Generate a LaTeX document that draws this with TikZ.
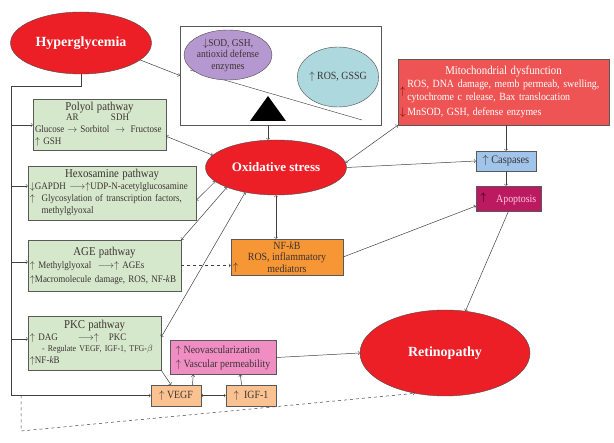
\documentclass[tikz,border=0pt]{standalone}
\usepackage{amsmath}
\usepackage{fontspec}
\setmainfont{Liberation Serif}
\newfontfamily\boxfont[FakeStretch=0.9]{Liberation Serif}
\usetikzlibrary{shapes.geometric}

\definecolor{hotred}{RGB}{236,30,38}
\definecolor{lilac}{RGB}{182,152,208}
\definecolor{paleblue}{RGB}{172,216,222}
\definecolor{mitored}{RGB}{238,84,84}
\definecolor{darkred}{RGB}{110,10,10}
\definecolor{caspblue}{RGB}{160,196,234}
\definecolor{apopred}{RGB}{188,26,96}
\definecolor{apoptext}{RGB}{255,200,225}
\definecolor{pathgreen}{RGB}{214,232,204}
\definecolor{nfkborange}{RGB}{246,150,52}
\definecolor{neopink}{RGB}{240,142,196}
\definecolor{vegforange}{RGB}{250,194,144}
\definecolor{inktext}{RGB}{60,50,50}

\newcommand\boxtitle[1]{\hfill{\fontsize{12}{13}\selectfont #1}\hfill\null}

\begin{document}
\begin{tikzpicture}[x=1pt,y=-1pt,>=to,
  every node/.style={inner sep=0pt},
  txt/.style={text=inktext,font=\boxfont\fontsize{10}{11.5}\selectfont},
  bigoval/.style={ellipse,draw=black!70,fill=hotred,text=white,font=\fontsize{14}{16}\selectfont\bfseries},
  oval/.style={ellipse,draw=black!70,txt,align=center},
  box/.style={draw=black!65,txt},
  pathbox/.style={box,fill=pathgreen,align=left,inner sep=2pt},
  link/.style={draw=black!75,line width=0.5pt,->},
  twoway/.style={draw=black!75,line width=0.5pt,<->}]
\useasboundingbox (0,0) rectangle (614,443);

\node[bigoval,minimum width=141pt,minimum height=62pt] (hyper) at (81,43) {Hyperglycemia};

\node[box,fill=white,minimum width=201pt,minimum height=99pt] (balance) at (280.5,75.5) {};
\draw[black!80] (190,70) -- (362,120);
\node[oval,fill=lilac,minimum width=76pt,minimum height=50pt,font=\boxfont\fontsize{10.5}{11.5}\selectfont] (antiox) at (228,55)
  {$\downarrow$SOD, GSH,\\antioxid defense\\enzymes};
\node[oval,fill=paleblue,minimum width=74pt,minimum height=60pt,font=\boxfont\fontsize{11}{12}\selectfont] (rosgssg) at (338,77)
  {$\uparrow$\ ROS, GSSG};
\coordinate (fulcrum) at (268,96);
\fill (250,121) -- (286,121) -- (fulcrum) -- cycle;

\node[bigoval,minimum width=141pt,minimum height=55pt,font=\fontsize{13}{14}\selectfont\bfseries] (oxs) at (276,167.5) {Oxidative stress};
\node[bigoval,minimum width=170pt,minimum height=86pt,font=\fontsize{14}{15}\selectfont\bfseries] (retina) at (445,353) {Retinopathy};

\node[box,fill=mitored,text=white,align=left,text width=207pt,minimum height=66pt,inner sep=2pt,
  font=\boxfont\fontsize{11}{12.5}\selectfont] (mito) at (503.5,92)
  {\boxtitle{Mitochondrial dysfunction}\\[1pt]
   {\color{darkred}$\uparrow$}\,\begin{tabular}[c]{@{}l@{}}ROS, DNA damage, memb permeab, swelling,\\cytochrome c release, Bax translocation\end{tabular}\\[3pt]
   {\color{darkred}$\downarrow$}\,MnSOD, GSH, defense enzymes};
\node[box,fill=caspblue,minimum width=60pt,minimum height=20pt,font=\boxfont\fontsize{11.5}{12}\selectfont] (casp) at (506,161) {$\uparrow$ Caspases};
\node[box,fill=apopred,minimum width=65pt,minimum height=25pt,font=\boxfont\fontsize{11}{12}\selectfont] (apop) at (508.5,198.5)
  {\raisebox{2pt}{\color{black}$\uparrow$}\hspace{10pt}{\color{apoptext}Apoptosis}};

\node[pathbox,text width=129pt,minimum height=51pt] (polyol) at (99.5,124.5)
  {\boxtitle{Polyol pathway}\\[-2pt]
   \begin{tabular}{@{}l@{\,}c@{\,}l@{\,}c@{\,}l@{}}
     & AR & & SDH & \\
     Glucose & $\rightarrow$ & Sorbitol & $\rightarrow$ & Fructose
   \end{tabular}\\[1pt]
   $\uparrow$ GSH};
\node[pathbox,text width=164pt,minimum height=54pt] (hexo) at (112,193)
  {\boxtitle{Hexosamine pathway}\\
   $\downarrow$GAPDH $\longrightarrow\uparrow$UDP-N-acetylglucosamine\\[1pt]
   $\uparrow$\ \ \begin{tabular}[t]{@{}l@{}}Glycosylation of transcription factors,\\methylglyoxal\end{tabular}};
\node[pathbox,text width=149pt,minimum height=51pt] (age) at (104.5,265.5)
  {\boxtitle{AGE pathway}\\[2pt]
   $\uparrow$ Methylglyoxal\ \ $\longrightarrow\uparrow$\ AGEs\\[2pt]
   $\uparrow$Macromolecule damage, ROS, NF-\textit{k}B};
\node[pathbox,text width=129pt,minimum height=54pt] (pkc) at (94.5,343)
  {\boxtitle{PKC pathway}\\
   $\uparrow$\ DAG\qquad$\longrightarrow\uparrow$\quad PKC\\
   \hspace*{12pt}{\fontsize{8.8}{10}\selectfont - Regulate VEGF, IGF-1, TFG-$\beta$}\\
   $\uparrow$NF-\textit{k}B};

\node[box,fill=nfkborange,minimum width=112pt,minimum height=36pt,align=center,
  font=\boxfont\fontsize{11}{11.5}\selectfont,
  label={[txt,font=\boxfont\fontsize{11}{12}\selectfont,anchor=south west,inner sep=2pt]south west:$\uparrow$}] (nfkb) at (287,257)
  {NF-\textit{k}B\\ROS, inflammatory\\mediators};
\node[box,fill=neopink,minimum width=106pt,minimum height=34pt,align=left,inner sep=2pt,
  font=\boxfont\fontsize{11}{12}\selectfont] (neo) at (223,357.5)
  {$\uparrow$ Neovascularization\\[2pt]$\uparrow$ Vascular permeability};
\node[box,fill=vegforange,minimum width=50pt,minimum height=21pt,font=\boxfont\fontsize{11}{12}\selectfont] (vegf) at (176,395.5) {$\uparrow$ VEGF\hspace{10pt}};
\node[box,fill=vegforange,minimum width=50pt,minimum height=21pt,font=\boxfont\fontsize{11}{12}\selectfont] (igf) at (251,395.5) {$\uparrow$\ \ IGF-1};

\draw[link] (hyper.-16) -- (balance.west);
\draw[link] (fulcrum |- balance.south) -- (fulcrum |- oxs.north);
\draw[link] (hyper.south) |- (11,86) |- (vegf.west);
\foreach \b/\y in {polyol/125,hexo/186,age/262,pkc/339}
  \draw[link] (11,\y) -- (\b.west |- 0,\y);
\draw[link,dashed] (21,395.5) -- (21,431) -- (retina.233);

\draw[twoway] (polyol.-10) -- (oxs.169);
\draw[twoway] (hexo.-5) -- (oxs.193);
\draw[twoway] (age.north east) -- (oxs.202);
\draw[twoway] (pkc.5) -- (oxs.219);
\draw[twoway] (oxs.south) -- (oxs.south |- nfkb.north);
\draw[twoway] (oxs.4) -- (mito.south west);
\draw[link] (oxs.east) -- (casp.west);
\draw[link,dashed] (age.east) -- (age.east -| nfkb.west);
\draw[link] (nfkb.east) -- (apop.193);

\draw[link] (casp.north |- mito.south) -- (casp.north);
\draw[link] (casp.south) -- (casp.south |- apop.north);
\draw[link] (apop.south) -- (retina.64);

\draw[link] (neo.east) -- (retina.west);
\draw[link] (pkc.south east) -- (vegf.115);
\draw[link] (vegf.33) -- (neo.210);
\draw[link] (igf.131) -- (neo.315);
\draw[twoway] (vegf.east) -- (igf.west);
\end{tikzpicture}
\end{document}
